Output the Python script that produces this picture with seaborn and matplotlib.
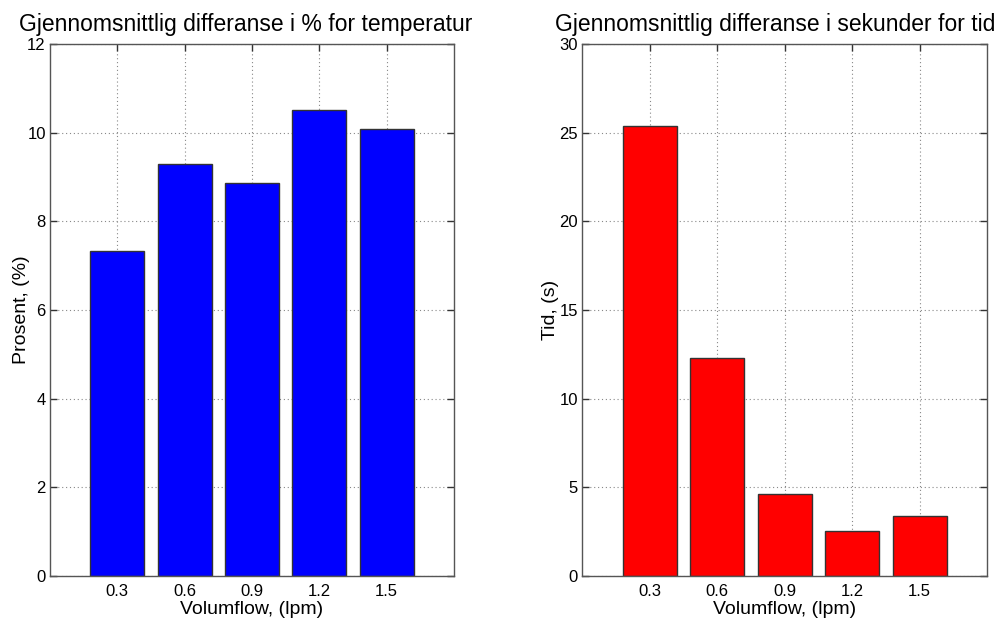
import matplotlib
matplotlib.use("Agg")
import matplotlib.pyplot as plt
import seaborn as sns
import pandas as pd

volumflow = ["0.3", "0.6", "0.9", "1.2", "1.5"]
prosent = [7.33, 9.30, 8.86, 10.52, 10.08]
tid = [25.4, 12.28, 4.62, 2.52, 3.40]

sns.set_theme(style="white")
plt.rcParams['font.family'] = ['Liberation Sans', 'DejaVu Sans']
plt.rcParams['text.color'] = 'black'
plt.rcParams['axes.labelcolor'] = 'black'
plt.rcParams['xtick.color'] = 'black'
plt.rcParams['ytick.color'] = 'black'

fig = plt.figure(figsize=(10.08, 6.28), dpi=100)
W, H = 1008, 628
ax1 = fig.add_axes([50 / W, (H - 576) / H, 404 / W, 532 / H])
ax2 = fig.add_axes([582 / W, (H - 576) / H, 405 / W, 532 / H])

df1 = pd.DataFrame({"Volumflow": volumflow, "Prosent": prosent})
df2 = pd.DataFrame({"Volumflow": volumflow, "Tid": tid})

sns.barplot(data=df1, x="Volumflow", y="Prosent", order=volumflow, color="#0000ff",
            saturation=1, width=0.8, edgecolor="#333333", linewidth=1, ax=ax1)
sns.barplot(data=df2, x="Volumflow", y="Tid", order=volumflow, color="#ff0000",
            saturation=1, width=0.8, edgecolor="#333333", linewidth=1, ax=ax2)

configs = [
    (ax1, (0, 12), [0, 2, 4, 6, 8, 10, 12], "Prosent, (%)",
     "Gjennomsnittlig differanse i % for temperatur", -0.05, 0.485),
    (ax2, (0, 30), [0, 5, 10, 15, 20, 25, 30], "Tid, (s)",
     "Gjennomsnittlig differanse i sekunder for tid", -0.057, 0.478),
]
for ax, ylim, yticks, ylabel, title, ylx, tx in configs:
    ax.set_xlim(-1, 5)
    ax.set_ylim(*ylim)
    ax.set_yticks(yticks)
    ax.set_xticks(range(len(volumflow)))
    ax.set_xticklabels(volumflow)
    ax.set_axisbelow(True)
    ax.grid(True, linestyle=(0, (1, 2.5)), color="#888888", linewidth=0.8)
    for s in ax.spines.values():
        s.set_color("#555555")
        s.set_linewidth(1)
    ax.tick_params(direction="in", length=5, width=1, color="#333333",
                   top=True, right=True, bottom=True, left=True,
                   labelsize=12, pad=3)
    ax.tick_params(axis="x", pad=6)
    ax.set_xlabel("Volumflow, (lpm)", fontsize=14, labelpad=1)
    ax.set_ylabel(ylabel, fontsize=14)
    ax.yaxis.set_label_coords(ylx, 0.5)
    ax.set_title(title, fontsize=16.5, pad=9, x=tx)

fig.savefig("out.png", dpi=100, facecolor="white")
